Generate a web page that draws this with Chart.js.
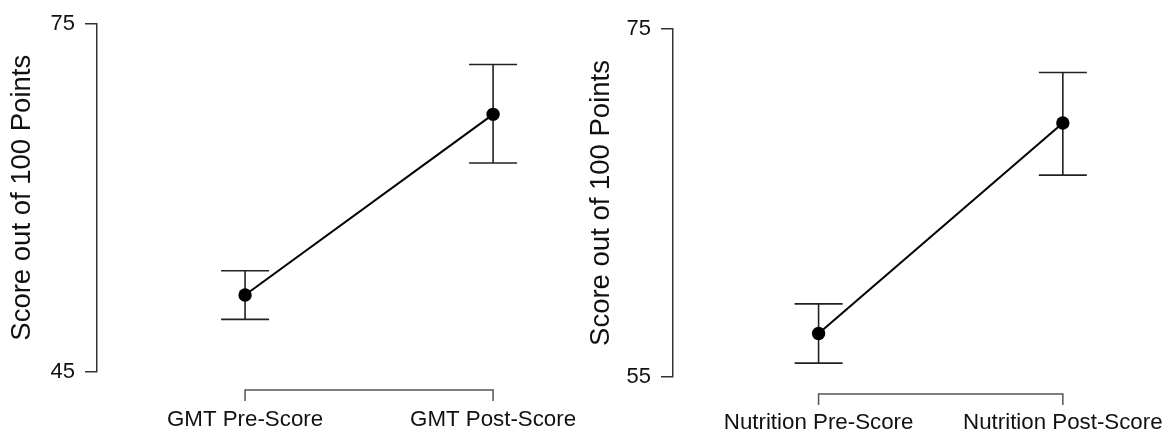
<!DOCTYPE html>
<html>
<head>
<meta charset="utf-8">
<script src="https://cdn.jsdelivr.net/npm/chart.js@4/dist/chart.umd.min.js"></script>
<style>
  html, body { margin: 0; padding: 0; background: #fff; }
  #wrap { position: relative; width: 1170px; height: 433px; overflow: hidden; }
  canvas { position: absolute; top: 0; }
</style>
</head>
<body>
<div id="wrap">
  <canvas id="c1" width="585" height="433" style="left:0"></canvas>
  <canvas id="c2" width="585" height="433" style="left:585px"></canvas>
</div>
<script>
// ---- data ----
const gmtCategories = ['GMT Pre-Score', 'GMT Post-Score'];
const gmtMeans = [51.6, 67.2];
const gmtLow = [49.5, 63.0];
const gmtHigh = [53.7, 71.5];
const gmtYTicks = [45, 75];

const nutCategories = ['Nutrition Pre-Score', 'Nutrition Post-Score'];
const nutMeans = [57.5, 69.6];
const nutLow = [55.8, 66.6];
const nutHigh = [59.2, 72.5];
const nutYTicks = [55, 75];

const yTitle = 'Score out of 100 Points';

// ---- styling ----
const FONT = "'Liberation Sans', Arial, sans-serif";
const AXIS_COLOR = '#333';

const errorBarPlugin = {
  id: 'errorBars',
  beforeDatasetsDraw(chart, args, opts) {
    const { ctx, scales: { x, y } } = chart;
    ctx.save();
    ctx.strokeStyle = '#222';
    ctx.lineWidth = 1.6;
    opts.low.forEach((lo, i) => {
      const px = x.getPixelForValue(i);
      const yl = y.getPixelForValue(lo);
      const yh = y.getPixelForValue(opts.high[i]);
      const cap = 24;
      ctx.beginPath();
      ctx.moveTo(px, yl); ctx.lineTo(px, yh);
      ctx.moveTo(px - cap, yl); ctx.lineTo(px + cap, yl);
      ctx.moveTo(px - cap, yh); ctx.lineTo(px + cap, yh);
      ctx.stroke();
    });
    ctx.restore();
  }
};

const bracketPlugin = {
  id: 'bracket',
  afterDraw(chart, args, opts) {
    const { ctx, scales: { x }, chartArea } = chart;
    const x0 = x.getPixelForValue(0);
    const x1 = x.getPixelForValue(opts.count - 1);
    const yb = chartArea.bottom + opts.gap;
    ctx.save();
    ctx.strokeStyle = '#555';
    ctx.lineWidth = 1.5;
    ctx.beginPath();
    ctx.moveTo(x0, yb + 11); ctx.lineTo(x0, yb);
    ctx.lineTo(x1, yb); ctx.lineTo(x1, yb + 11);
    ctx.stroke();
    ctx.restore();
  }
};

function makeChart(id, cats, means, low, high, yTicks, cfg) {
  return new Chart(document.getElementById(id), {
    type: 'line',
    data: {
      datasets: [{
        data: means.map((v, i) => ({ x: i, y: v })),
        borderColor: '#000',
        borderWidth: 2,
        pointRadius: 6.7,
        pointBackgroundColor: '#000',
        pointBorderColor: '#000',
        pointBorderWidth: 0,
        tension: 0,
        fill: false
      }]
    },
    options: {
      responsive: false,
      animation: false,
      devicePixelRatio: 1,
      layout: { padding: { top: cfg.padTop, right: 20, left: 0, bottom: 0 } },
      plugins: {
        legend: { display: false },
        tooltip: { enabled: false },
        errorBars: { low, high },
        bracket: { count: cats.length, gap: cfg.bracketGap }
      },
      scales: {
        x: {
          type: 'linear',
          min: cfg.xMin,
          max: cfg.xMax,
          afterBuildTicks(s) { s.ticks = cats.map((c, i) => ({ value: i })); },
          afterFit(s) { s.height = cfg.xHeight; },
          ticks: {
            callback: (v) => cats[v],
            font: { family: FONT, size: 22.3 },
            color: '#111',
            padding: 4,
            maxRotation: 0,
            autoSkip: false
          },
          grid: { display: true, drawOnChartArea: false, drawTicks: true, tickLength: cfg.xTickLen, tickColor: 'rgba(0,0,0,0)' },
          border: { display: false }
        },
        y: {
          min: yTicks[0],
          max: yTicks[yTicks.length - 1],
          afterBuildTicks(s) { s.ticks = yTicks.map(v => ({ value: v })); },
          afterFit(s) { s.width = cfg.yWidth; },
          ticks: {
            font: { family: FONT, size: 22 },
            color: '#111',
            padding: 10
          },
          grid: { display: true, drawOnChartArea: false, drawTicks: true, tickLength: 12, tickColor: AXIS_COLOR, lineWidth: 1.5 },
          border: { display: true, color: AXIS_COLOR, width: 1.5 },
          title: {
            display: true,
            text: yTitle,
            font: { family: FONT, size: 27.5 },
            color: '#111',
            padding: { top: cfg.titlePad, bottom: 0 }
          }
        }
      }
    },
    plugins: [errorBarPlugin, bracketPlugin]
  });
}

makeChart('c1', gmtCategories, gmtMeans, gmtLow, gmtHigh, gmtYTicks,
  { padTop: 24, xHeight: 61.5, xMin: -0.597, xMax: 1.29, yWidth: 97, titlePad: 6, bracketGap: 18.5, xTickLen: 31 });
makeChart('c2', nutCategories, nutMeans, nutLow, nutHigh, nutYTicks,
  { padTop: 29, xHeight: 56, xMin: -0.596, xMax: 1.328, yWidth: 88, titlePad: 0, bracketGap: 17, xTickLen: 28 });
</script>
</body>
</html>
